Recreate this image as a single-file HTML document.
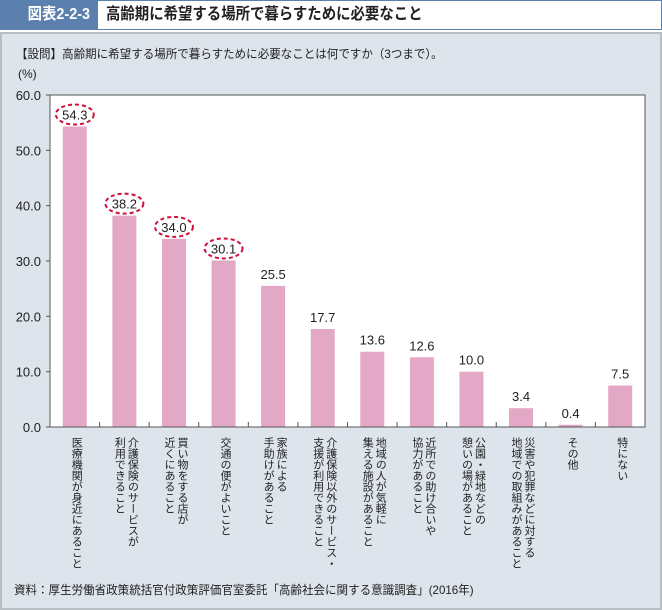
<!DOCTYPE html>
<html><head><meta charset="utf-8"><style>
body{margin:0;width:662px;height:610px;background:#fff;font-family:"Liberation Sans","Noto Sans CJK JP",sans-serif;overflow:hidden;position:relative}
#hdr{position:absolute;left:0;top:0;width:660px;height:28px;border:1px solid #5b80ad;background:#fff}
#hdr .tag{position:absolute;left:0;top:0;width:97px;height:28px;background:#5b80ad;color:#fff;font-weight:bold;font-size:16px;line-height:28px;text-indent:14px;white-space:nowrap}
#hdr .tag span{display:inline-block;transform:scaleX(0.9);transform-origin:left}
#hdr .ttl{position:absolute;left:105px;top:0;line-height:28px;font-size:16px;font-weight:bold;color:#222;white-space:nowrap;transform:scaleX(0.9);transform-origin:left}
#panel{position:absolute;left:0;top:32px;width:658px;height:574px;background:#dde4ec;border:2px solid #b9bec5}
.q{position:absolute;left:16px;top:45px;font-size:12px;color:#222;white-space:nowrap;transform:scaleX(0.96);transform-origin:left}
.unit{position:absolute;left:18px;top:67px;font-size:12px;color:#222}
.src{position:absolute;left:14px;top:581px;font-size:12px;color:#222;white-space:nowrap;transform:scaleX(0.96);transform-origin:left}
svg{position:absolute;left:0;top:0}
.xl{position:absolute;top:437px;writing-mode:vertical-rl;font-size:11px;line-height:13px;color:#222}
</style></head><body>
<div id="hdr"><div class="tag"><span>図表2-2-3</span></div><div class="ttl">高齢期に希望する場所で暮らすために必要なこと</div></div>
<div id="panel"></div>
<div class="q">【設問】高齢期に希望する場所で暮らすために必要なことは何ですか（3つまで）。</div>
<div class="unit">(%)</div>
<div class="src">資料：厚生労働省政策統括官付政策評価官室委託「高齢社会に関する意識調査」(2016年)</div>
<svg id="chart" width="662" height="610"></svg>
<div id="labels"></div>
<script>
const categories=["医療機関が身近にあること","介護保険のサービスが\n利用できること","買い物をする店が\n近くにあること","交通の便がよいこと","家族による\n手助けがあること","介護保険以外のサービス・\n支援が利用できること","地域の人が気軽に\n集える施設があること","近所での助け合いや\n協力があること","公園・緑地などの\n憩いの場があること","災害や犯罪などに対する\n地域での取組みがあること","その他","特にない"];
const values=[54.3,38.2,34.0,30.1,25.5,17.7,13.6,12.6,10.0,3.4,0.4,7.5];
const highlighted=[true,true,true,true,false,false,false,false,false,false,false,false];
const yTicks=[0,10,20,30,40,50,60];
const L=50,R=645,T=95,B=427,ymax=60;
const band=(R-L)/categories.length;
const y=v=>B-(v/ymax)*(B-T);
const xc=i=>L+band*(i+0.5);
const NS="http://www.w3.org/2000/svg";
const svg=document.getElementById('chart');
function mk(t,a){const e=document.createElementNS(NS,t);for(const k in a)e.setAttribute(k,a[k]);svg.appendChild(e);return e;}
const pa=mk('rect',{x:L,y:T,width:R-L,height:B-T,fill:'#fff',stroke:'#555','stroke-width':1});


yTicks.forEach(t=>{
 const tl=mk('line',{x1:L-4,x2:L,y1:y(t),y2:y(t),stroke:'#555'});
 
 
 const tx=mk('text',{x:L-9,y:y(t)+5,'text-anchor':'end','font-size':13,fill:'#222'});
 tx.textContent=t.toFixed(1);
 
 
});
for(let i=1;i<categories.length;i++){
 const tk=mk('line',{x1:L+band*i,x2:L+band*i,y1:B,y2:B-5,stroke:'#555'});
 
 
}
const lab=document.getElementById('labels');
values.forEach((v,i)=>{
 const b=mk('rect',{x:xc(i)-12,y:y(v),width:24,height:B-y(v),fill:'#e3a8c6'});
 
 
 const t=mk('text',{x:xc(i),y:y(v)-7,'text-anchor':'middle','font-size':13,fill:'#222'});
 t.textContent=v.toFixed(1);
 
 
 if(highlighted[i]){
  const el=mk('ellipse',{cx:xc(i),cy:y(v)-12,rx:19,ry:10,fill:'none',stroke:'#d0103a','stroke-width':2,'stroke-dasharray':'4 3'});
  
  
 }
 const d=document.createElement('div');
 d.className='xl';
 
 
 const lines=categories[i].split('\n');
 d.innerHTML=lines.join('<br>');
 const w=lines.length*13;
 d.style.left=(xc(i)-w/2+1)+'px';
 lab.appendChild(d);
});
const ax=mk('line',{x1:L,x2:R,y1:B,y2:B,stroke:'#555'});


</script>
</body></html>
